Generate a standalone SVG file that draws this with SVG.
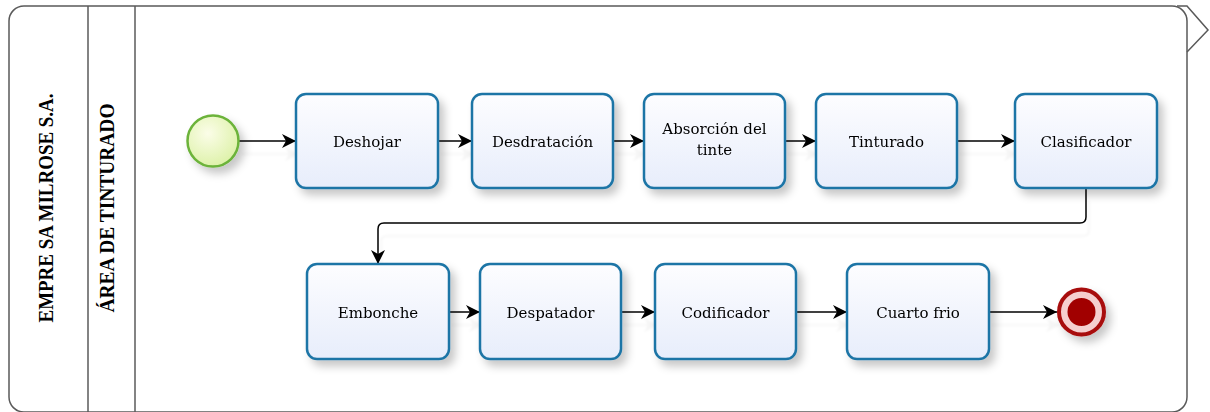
<svg xmlns="http://www.w3.org/2000/svg" width="1210" height="412" viewBox="0 0 1210 412">
<style>
.pool{fill:#ffffff;stroke:#5a5a5a;stroke-width:1.5}
.lane{fill:none;stroke:#5a5a5a;stroke-width:1.5}
.plabel{font-family:"Liberation Serif","Times New Roman",serif;font-weight:bold;font-size:20px;fill:#000}
.task{fill:url(#taskFill);stroke:#1f75a6;stroke-width:2.5}
.tl{font-family:"DejaVu Serif","Liberation Serif",serif;font-size:15px;fill:#000;text-anchor:middle}
.conn{fill:none;stroke:#000;stroke-width:1.5}
</style>
<defs>
<linearGradient id="taskFill" x1="0" y1="0" x2="0" y2="1">
<stop offset="0" stop-color="#fdfdff"/>
<stop offset="1" stop-color="#e7edfb"/>
</linearGradient>
<radialGradient id="startFill" cx="0.4" cy="0.35" r="0.7">
<stop offset="0" stop-color="#fbfde8"/>
<stop offset="1" stop-color="#dcf1a6"/>
</radialGradient>
<filter id="sh" x="-20%" y="-20%" width="150%" height="160%">
<feDropShadow dx="5" dy="6" stdDeviation="4" flood-color="#000" flood-opacity="0.22"/>
</filter>
<filter id="csh" x="-5%" y="-50%" width="110%" height="300%">
<feDropShadow dx="3" dy="13" stdDeviation="1" flood-color="#000" flood-opacity="0.04"/>
</filter>
<marker id="arr" markerUnits="userSpaceOnUse" markerWidth="15" markerHeight="15" refX="14" refY="7" orient="auto">
<path d="M0,0 L14,7 L0,14 L4,7 z" fill="#000"/>
</marker>
</defs>

<g id="pool">
<rect class="pool" x="9" y="6" width="1178" height="406" rx="15" ry="15"/>
<path class="lane" d="M1177,6 H1187 L1208,30 L1187,52"/>
<line class="lane" x1="88" y1="6" x2="88" y2="412"/>
<line class="lane" x1="135" y1="6" x2="135" y2="412"/>
<text class="plabel" transform="translate(53,208) rotate(-90)" text-anchor="middle" textLength="229" lengthAdjust="spacingAndGlyphs">EMPRE SA MILROSE S.A.</text>
<text class="plabel" transform="translate(114,208) rotate(-90)" text-anchor="middle" textLength="209" lengthAdjust="spacingAndGlyphs">ÁREA DE TINTURADO</text>
</g>

<g id="connectors" filter="url(#csh)">
<path class="conn" d="M239,141 H296" marker-end="url(#arr)"/>
<path class="conn" d="M438,141 H472" marker-end="url(#arr)"/>
<path class="conn" d="M613,141 H644" marker-end="url(#arr)"/>
<path class="conn" d="M785,141 H816" marker-end="url(#arr)"/>
<path class="conn" d="M957,141 H1015" marker-end="url(#arr)"/>
<path class="conn" d="M1086,188 V217 Q1086,223 1080,223 H384 Q378,223 378,229 V264" marker-end="url(#arr)"/>
<path class="conn" d="M449,312 H480" marker-end="url(#arr)"/>
<path class="conn" d="M621,312 H655" marker-end="url(#arr)"/>
<path class="conn" d="M796,312 H847" marker-end="url(#arr)"/>
<path class="conn" d="M989,312 H1057" marker-end="url(#arr)"/>
</g>

<g id="start" filter="url(#sh)">
<circle cx="213" cy="141" r="25.5" fill="url(#startFill)" stroke="#6cb33a" stroke-width="2.5"/>
</g>

<g id="t-deshojar" filter="url(#sh)">
<rect class="task" x="296" y="94" width="142" height="94" rx="10"/>
<text class="tl" x="367" y="147">Deshojar</text>
</g>
<g id="t-desdratacion" filter="url(#sh)">
<rect class="task" x="472" y="94" width="141" height="94" rx="10"/>
<text class="tl" x="542.5" y="147">Desdratación</text>
</g>
<g id="t-absorcion" filter="url(#sh)">
<rect class="task" x="644" y="94" width="141" height="94" rx="10"/>
<text class="tl" x="714.5" y="134">Absorción del</text>
<text class="tl" x="714.5" y="155">tinte</text>
</g>
<g id="t-tinturado" filter="url(#sh)">
<rect class="task" x="816" y="94" width="141" height="94" rx="10"/>
<text class="tl" x="886.5" y="147">Tinturado</text>
</g>
<g id="t-clasificador" filter="url(#sh)">
<rect class="task" x="1015" y="94" width="142" height="94" rx="10"/>
<text class="tl" x="1086" y="147">Clasificador</text>
</g>

<g id="t-embonche" filter="url(#sh)">
<rect class="task" x="307" y="264" width="142" height="95" rx="10"/>
<text class="tl" x="378" y="318">Embonche</text>
</g>
<g id="t-despatador" filter="url(#sh)">
<rect class="task" x="480" y="264" width="141" height="95" rx="10"/>
<text class="tl" x="550.5" y="318">Despatador</text>
</g>
<g id="t-codificador" filter="url(#sh)">
<rect class="task" x="655" y="264" width="141" height="95" rx="10"/>
<text class="tl" x="725.5" y="318">Codificador</text>
</g>
<g id="t-cuartofrio" filter="url(#sh)">
<rect class="task" x="847" y="264" width="142" height="95" rx="10"/>
<text class="tl" x="918" y="318">Cuarto frio</text>
</g>

<g id="end" filter="url(#sh)">
<circle cx="1081.5" cy="312" r="22.5" fill="#f6cfcf" stroke="#a80c0c" stroke-width="4"/>
<circle cx="1081.5" cy="312" r="14" fill="#a10000"/>
</g>
</svg>
